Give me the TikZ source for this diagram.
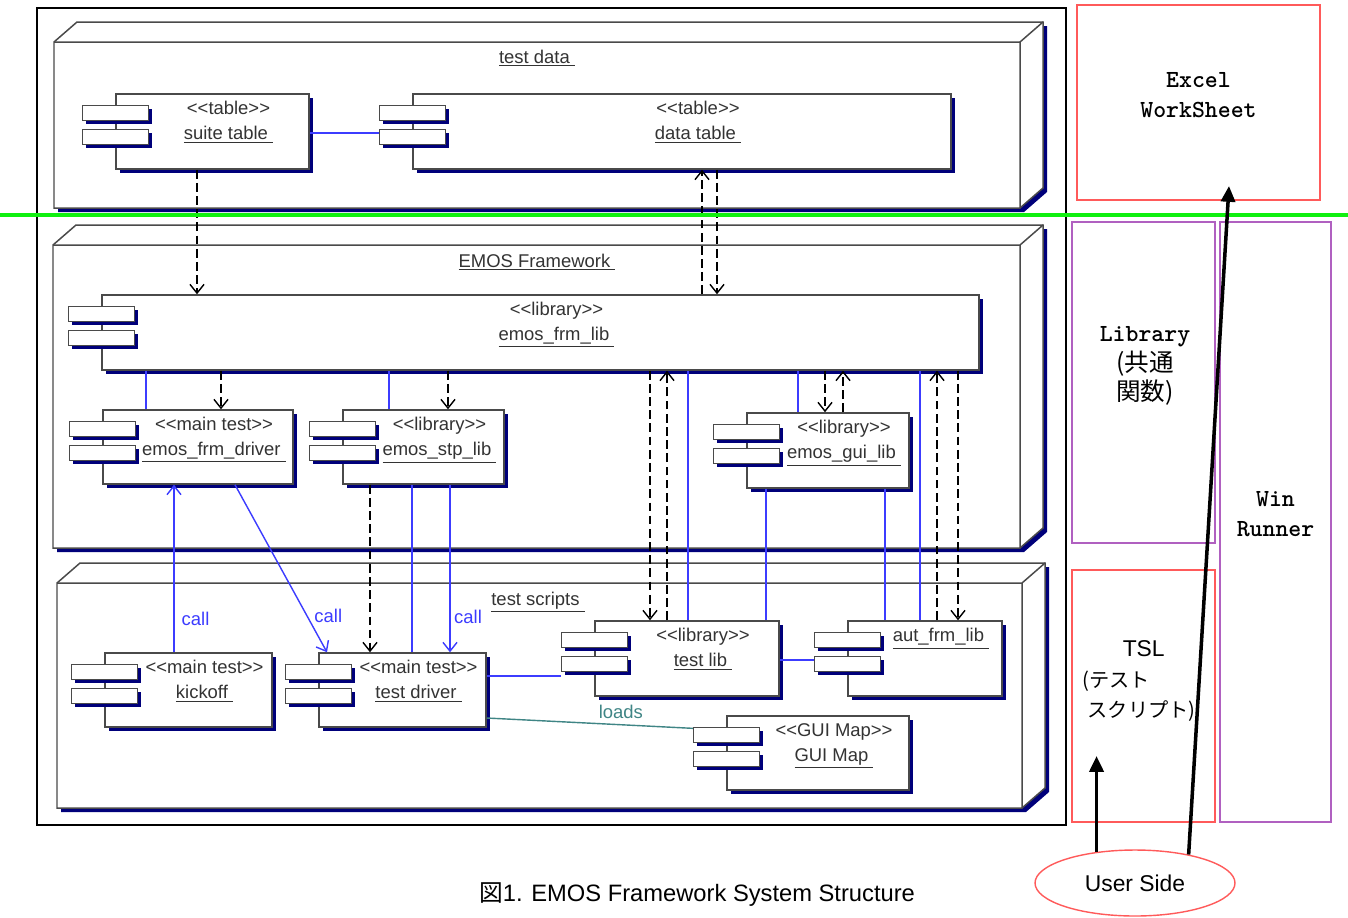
\documentclass[tikz,border=0pt]{standalone}
\usepackage{fontspec}
\setmainfont{Liberation Sans}
\newfontfamily\jp{Noto Sans CJK JP}
\usetikzlibrary{arrows.meta,positioning,calc,fit,shadows,shapes.geometric}
\definecolor{Navy}{HTML}{00007A}
\definecolor{Edge}{HTML}{4A4A4A}
\definecolor{Blu}{HTML}{3C3CFF}
\definecolor{Teal}{HTML}{3F8585}
\definecolor{Lime}{HTML}{10F010}
\definecolor{Rose}{HTML}{FF5A5A}
\definecolor{Plum}{HTML}{B060C0}
\newcommand{\st}[1]{<{}<#1>{}>}
\newcommand{\ul}[1]{\underline{#1\ }}

\begin{document}
\begin{tikzpicture}[
  x=0.02cm, y=-0.02cm,
  comp/.style={draw=Edge, fill=white, line width=0.85pt, inner sep=0pt,
               general shadow={fill=Navy, shadow xshift=2pt, shadow yshift=-2pt}},
  tab/.style={comp},
  ctext/.style={anchor=north, align=center, inner sep=0pt, text=black!80,
                font=\fontsize{10.5}{14}\selectfont},
  ptitle/.style={ctext, anchor=base},
  dep/.style={dash pattern=on 5pt off 2.5pt, line width=0.8pt,
              -{Straight Barb[length=5pt,width=8pt]}},
  link/.style={Blu, line width=0.8pt},
  call/.style={link, -{Straight Barb[length=5pt,width=8pt]}},
  lbl/.style={font=\fontsize{10.5}{12}\selectfont, inner sep=1pt},
  side/.style={draw=#1, line width=0.8pt, inner sep=0pt},
  big/.style={font=\ttfamily\bfseries\fontsize{14}{17}\selectfont, align=center, inner sep=0pt},
  push/.style={line width=2pt, -{Triangle[length=9pt,width=8pt]}}
]
  \useasboundingbox (0,0) rectangle (1348,917);
  \draw[line width=0.8pt] (37,8) rectangle (1066,825);

  % 3d packages
  \foreach \xa/\ya/\xb/\yb in {54/42/1020/208, 53/245/1020/548, 57/583/1022/808} {
    \fill[Navy] (\xa+4,\yb+4) -- (\xb+4,\yb+4) -- (\xb+27,\yb-16)
      -- (\xb+27,\ya-16) -- (\xa+27,\ya-16) -- (\xa+4,\ya+4) -- cycle;
    \filldraw[fill=white, draw=Edge, line width=0.85pt] (\xa,\yb) -- (\xb,\yb)
      -- (\xb+23,\yb-20) -- (\xb+23,\ya-20) -- (\xa+23,\ya-20) -- (\xa,\ya) -- cycle;
    \draw[Edge, line width=0.85pt] (\xa,\ya) -- (\xb,\ya) -- (\xb+23,\ya-20)
      (\xb,\ya) -- (\xb,\yb);
  }
  \node[ptitle] (tdata)    at (537,63)  {\ul{test data}};
  \node[ptitle] (emosfw)   at (537,267) {\ul{EMOS Framework}};
  \node[ptitle] (tscripts) at (538,605) {\ul{test scripts}};

  % components
  \foreach \nm/\xa/\ya/\xb/\yb/\txt in {
      suite/116/94/309/169/{\st{table}\\\ul{suite table}},
      data/413/94/951/169/{\st{table}\\\ul{data table}},
      frmlib/102/295/979/370/{\st{library}\\\ul{emos\_frm\_lib}},
      driver/103/410/293/484/{\st{main test}\\\ul{emos\_frm\_driver}},
      stp/343/410/504/484/{\st{library}\\\ul{emos\_stp\_lib}},
      gui/747/413/909/488/{\st{library}\\\ul{emos\_gui\_lib}},
      kick/105/653/272/727/{\st{main test}\\\ul{kickoff}},
      tdrv/319/653/486/727/{\st{main test}\\\ul{test driver}},
      tlib/595/621/779/696/{\st{library}\\\ul{test lib}},
      aut/848/621/1002/696/{\ul{aut\_frm\_lib}},
      guimap/727/716/909/790/{\st{GUI Map}\\\ul{GUI Map}}} {
    \node[comp, fit={(\xa,\ya) (\xb,\yb)}] (\nm) {};
    \node[ctext] (\nm-t) at ([shift={(16,8)}]\nm.north) {\txt};
  }

  % connectors
  \draw[link] (suite.east |- 0,133) -- (data.west |- 0,133);
  \draw[dep] (197,0 |- suite.south) -- (197,0 |- frmlib.north);
  \draw[dep] (702,0 |- frmlib.north) -- (702,0 |- data.south);
  \draw[dep] (717,0 |- data.south) -- (717,0 |- frmlib.north);
  \foreach \x/\t in {146/driver, 389/stp, 688/tlib, 798/gui, 920/aut}
    \draw[link] (\x,0 |- frmlib.south) -- (\x,0 |- \t.north);
  \foreach \x/\t in {221/driver, 448/stp, 650/tlib, 825/gui, 958/aut}
    \draw[dep] (\x,0 |- frmlib.south) -- (\x,0 |- \t.north);
  \foreach \x/\t in {667/tlib, 843/gui, 937/aut}
    \draw[dep] (\x,0 |- \t.north) -- (\x,0 |- frmlib.south);
  \foreach \x/\t in {766/tlib, 885/aut}
    \draw[link] (\x,0 |- gui.south) -- (\x,0 |- \t.north);

  \draw[call] (174,0 |- kick.north) -- node[lbl, right=3pt, pos=0.2, Blu] (call1) {call} (174,0 |- driver.south);
  \draw[call] (235,0 |- driver.south) -- node[lbl, right=3pt, pos=0.78, Blu] (call2) {call} (327,0 |- tdrv.north);
  \draw[dep] (370,0 |- stp.south) -- (370,0 |- tdrv.north);
  \draw[link] (412,0 |- stp.south) -- (412,0 |- tdrv.north);
  \draw[call] (450,0 |- stp.south) -- node[lbl, right=1pt, pos=0.79, Blu] (call3) {call} (450,0 |- tdrv.north);
  \draw[link] (tdrv.east |- 0,676) -- ($(tlib.west |- 0,676)+(-33,0)$);
  \draw[link] (tlib.east |- 0,660) -- (aut.west |- 0,660);
  \draw[Teal, line width=0.8pt] (tdrv.east |- 0,718) -- node[lbl, above=2pt, pos=0.56, Teal] (loads) {loads} (guimap.west |- 0,730);

  % component tabs
  \foreach \nm in {suite,data,frmlib,driver,stp,gui,kick,tdrv,tlib,aut,guimap} {
    \draw[tab] ([shift={(-33,12)}]\nm.north west) rectangle ++(66,15);
    \draw[tab] ([shift={(-33,36)}]\nm.north west) rectangle ++(66,15);
  }

  \draw[Lime, line width=1.8pt] (0,215) -- (1348,215);

  % right side
  \node[side=Rose, big, fit={(1077,5) (1320,200)}] (excel) {Excel\\WorkSheet};
  \node[side=Plum, fit={(1072,222) (1215,543)}] (lib) {};
  \node[big] (lib-t) at (1145,366) {Library\\{\jp\mdseries (共通}\\{\jp\mdseries 関数)}};
  \node[side=Plum, big, fit={(1220,222) (1331,822)}] (winr) {Win\\Runner};
  \node[side=Rose, fit={(1072,570) (1215,822)}] (tsl) {};
  \node[anchor=north west, align=left, inner sep=0pt, font=\fontsize{13}{17.5}\selectfont]
    (tsl-t) at (1082,640) {\hspace*{23pt}TSL\\{\jp\fontsize{11.5}{17.5}\selectfont (テスト}\\{\jp\fontsize{11.5}{17.5}\selectfont\hspace*{3pt}スクリプト)}};
  \node[ellipse, draw=Rose, line width=0.8pt, minimum width=4cm, minimum height=1.32cm,
        font=\fontsize{13}{15}\selectfont] (user) at (1135,883) {User Side};
  \coordinate (tslin) at (1097,756);
  \coordinate (xlin) at (1229,186);
  \draw[push] (user.141) -- (user.141 |- tslin);
  \draw[push] (user.28) -- (xlin);

  \node[font=\fontsize{13.5}{16}\selectfont] (cap) at (697,895)
    {{\jp 図}1. EMOS Framework System Structure};
\end{tikzpicture}
\end{document}
